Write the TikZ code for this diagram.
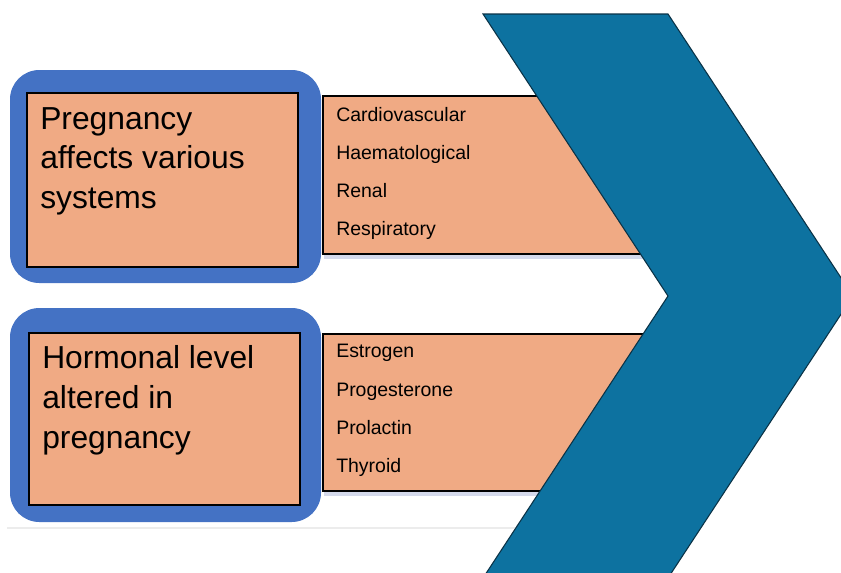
\documentclass[tikz,border=0pt]{standalone}
\usepackage{fontspec}
\setmainfont{Liberation Sans}
\definecolor{frameblue}{RGB}{68,114,196}
\definecolor{peach}{RGB}{240,170,132}
\definecolor{chev}{RGB}{13,114,160}
\definecolor{chevline}{RGB}{10,50,70}
\definecolor{shadowc}{RGB}{212,217,235}
\definecolor{faint}{RGB}{236,236,236}
\tikzset{
  frame/.style={fill=frameblue, draw=none, rounded corners=22pt},
  inbox/.style={fill=peach, draw=black, line width=0.8pt},
  listbox/.style={fill=peach, draw=black, line width=0.8pt},
  bigtxt/.style={anchor=base west, inner sep=0pt, font=\fontsize{23.85pt}{28pt}\selectfont},
  smalltxt/.style={anchor=base west, inner sep=0pt, font=\fontsize{14.6pt}{17pt}\selectfont},
  chevron/.style={fill=chev, draw=chevline, line width=0.8pt}
}
\begin{document}
\begin{tikzpicture}[x=0.75pt,y=-0.75pt]
\useasboundingbox (0,0) rectangle (841,572);
\begin{scope}
\clip (0,0) rectangle (841,572);
% faint separator
\draw[faint, line width=0.8pt] (7,528) -- (560,528);
% list boxes with shadows
\fill[shadowc] (324,254) rectangle (700,258.5);
\fill[shadowc] (324,491) rectangle (700,495.5);
\path[listbox] (323,96) rectangle (700,254);
\path[listbox] (323,334) rectangle (700,491);
% chevron
\path[chevron] (483,14) -- (668,14) -- (853,296) -- (668,578) -- (483,578) -- (668,296) -- cycle;
% left frames
\path[frame] (10,70) rectangle (321,283);
\path[frame] (10,308) rectangle (321,522);
\path[inbox] (27,93) rectangle (298,267);
\path[inbox] (29,333) rectangle (300,505);
\end{scope}
% texts
\node[bigtxt] (p1) at (40,129) {Pregnancy};
\node[bigtxt] (p2) at (40,168.5) {affects various};
\node[bigtxt] (p3) at (40,208) {systems};
\node[bigtxt] (h1) at (42,368) {Hormonal level};
\node[bigtxt] (h2) at (42,408) {altered in};
\node[bigtxt] (h3) at (42,448) {pregnancy};
\node[smalltxt] (s1) at (336,121) {Cardiovascular};
\node[smalltxt] (s2) at (336,159.3) {Haematological};
\node[smalltxt] (s3) at (336,197.5) {Renal};
\node[smalltxt] (s4) at (336,235.7) {Respiratory};
\node[smalltxt] (t1) at (336,357.3) {Estrogen};
\node[smalltxt] (t2) at (336,396) {Progesterone};
\node[smalltxt] (t3) at (336,434) {Prolactin};
\node[smalltxt] (t4) at (336,472.7) {Thyroid};
\end{tikzpicture}
\end{document}
